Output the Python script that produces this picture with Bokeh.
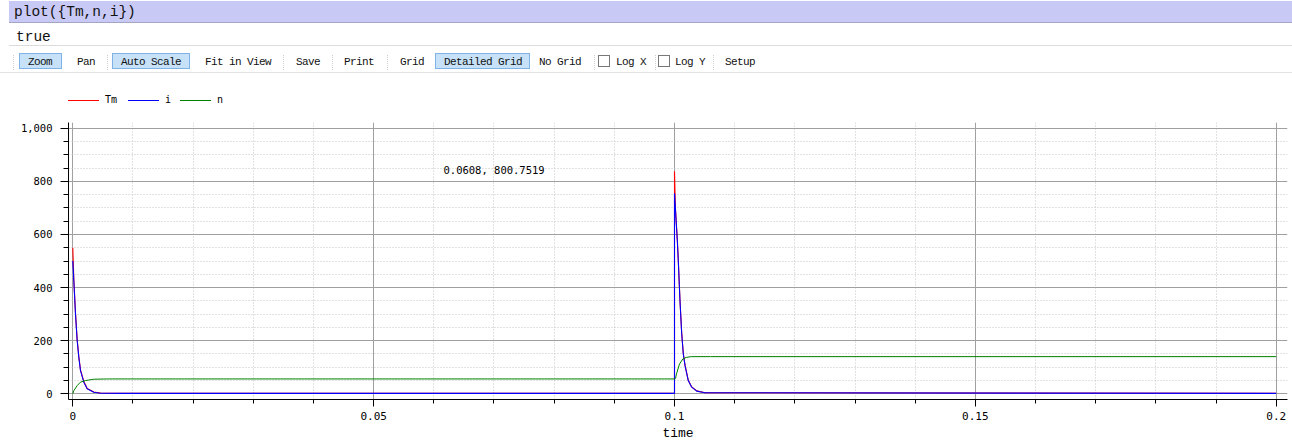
from bokeh.plotting import figure
from bokeh.models import (Div, Label, Range1d, FixedTicker)
from bokeh.layouts import column
from bokeh.embed import file_html
from bokeh.resources import INLINE

# ---------------- data ----------------
command_text = "plot({Tm,n,i})"
result_text = "true"
# (label, text-left x, highlighted, box-left, box-right)
toolbar_buttons = [
    ("Zoom", 28, True, 19, 62),
    ("Pan", 77, False, 0, 0),
    ("Auto Scale", 121, True, 112, 190),
    ("Fit in View", 205, False, 0, 0),
    ("Save", 296, False, 0, 0),
    ("Print", 344, False, 0, 0),
    ("Grid", 400, False, 0, 0),
    ("Detailed Grid", 444, True, 435, 530),
    ("No Grid", 539, False, 0, 0),
    ("Log X", 616, False, 0, 0),
    ("Log Y", 675, False, 0, 0),
    ("Setup", 725, False, 0, 0),
]
toolbar_separators = [13, 107, 283, 332, 387, 594, 655, 713]
toolbar_checkboxes = [598, 658]

series_names = ["Tm", "i", "n"]
series_colors = ["#ff0000", "#0000ff", "#008000"]
legend_x = [68, 128, 180]   # left end of each legend swatch

tm_t = [0.0, 0.00017, 0.00045, 0.00073, 0.0010, 0.00128, 0.00183, 0.00239, 0.00349, 0.0046, 0.008,
        0.1, 0.1, 0.10015, 0.10047, 0.10063, 0.10091, 0.10120, 0.10146, 0.10175, 0.10229, 0.10286,
        0.10369, 0.10507, 0.2]
tm_v = [550, 430, 303, 203, 140, 90, 46, 20, 7, 3, 2,
        2, 838, 700, 580, 505, 353, 228, 152, 108, 51, 26,
        11, 4, 2]

i_t = [0.0, 0.00017, 0.00045, 0.00073, 0.0010, 0.00128, 0.00183, 0.00239, 0.00349, 0.0046, 0.008,
       0.1, 0.1, 0.10047, 0.10063, 0.10091, 0.10120, 0.10146, 0.10175, 0.10229, 0.10286,
       0.10369, 0.10507, 0.2]
i_v = [500, 425, 299, 200, 137, 87, 44, 19, 6, 2, 1.5,
       1.5, 755, 575, 500, 350, 225, 150, 106, 50, 25,
       10, 4, 1.5]

n_t = [0.0, 0.00017, 0.00073, 0.00128, 0.00211, 0.0035, 0.006,
       0.1, 0.10017, 0.10033, 0.10083, 0.10138, 0.10195, 0.10278, 0.106, 0.2]
n_v = [0, 12, 31, 44, 50, 55, 56,
       56, 58, 75, 112, 131, 137, 140, 140, 140]

x_ticks = [0, 0.05, 0.1, 0.15, 0.2]
x_tick_labels = ["0", "0.05", "0.1", "0.15", "0.2"]
x_minor_ticks = [0.01, 0.02, 0.03, 0.04, 0.06, 0.07, 0.08, 0.09,
                 0.11, 0.12, 0.13, 0.14, 0.16, 0.17, 0.18, 0.19]
y_ticks = [0, 200, 400, 600, 800, 1000]
y_tick_labels = ["0", "200", "400", "600", "800", "1,000"]
y_minor_ticks = [50, 100, 150, 250, 300, 350, 450, 500, 550, 650, 700, 750, 850, 900, 950]
x_axis_label = "time"
cursor_text = "0.0608, 800.7519"
cursor_pos = (0.06161, 841)

# ---------------- header + legend (HTML) ----------------
HX, HY = 3, 4   # empirical offset of the Div content
mono = "'Liberation Mono', 'DejaVu Sans Mono', monospace"
parts = []
def el(x, y, style, content=""):
    parts.append(f'<div style="position:absolute;left:{x + HX}px;top:{y + HY}px;{style}">{content}</div>')

el(9, 0, "width:1283px;height:22px;background:#c9c9f5;border-bottom:1px solid #a4a4c4;")
el(14, 0, f"height:22px;line-height:22px;font-family:{mono};font-size:14.5px;color:#111;", command_text)
el(9, 44, "width:1283px;height:1px;background:#dcdcdc;")
el(16, 25, f"height:22px;line-height:22px;font-family:{mono};font-size:14.5px;color:#111;", result_text)
for lbl, tx, hl, bl, br in toolbar_buttons:
    if hl:
        el(bl, 52, f"width:{br-bl}px;height:16px;background:#c6e1f8;border:1px solid #7fb2e5;")
    el(tx, 53, f"height:17px;line-height:17px;font-family:{mono};font-size:11px;"
               f"letter-spacing:-0.6px;color:#111;white-space:pre;", lbl)
for sx in toolbar_separators:
    el(sx, 54, "width:1px;height:15px;border-left:1px dotted #cfcfcf;")
for cx in toolbar_checkboxes:
    el(cx, 54, "width:12px;height:12px;background:#fff;border:1px solid #777;")
el(-3, 71, "width:1300px;height:1px;background:#e2e2e2;")
# legend
for name, col, lx in zip(series_names, series_colors, legend_x):
    el(lx, 99, f"width:31px;height:1px;background:{col};")
    el(lx + 37, 92, f"height:14px;line-height:14px;font-family:'DejaVu Sans Mono';font-size:10px;"
                    f"color:#000;white-space:pre;", name)
header_html = ('<div style="position:relative;width:1292px;height:111px;overflow:visible;">'
               + "".join(parts) + '</div>')
header = Div(text=header_html, width=1290, height=111)

# ---------------- plot ----------------
px_per_unit_x = 6017.0
x0_px = 72.3
p = figure(width=1298, height=330, output_backend="svg", toolbar_location=None,
           x_range=Range1d((68 - x0_px) / px_per_unit_x, (1287 - x0_px) / px_per_unit_x),
           y_range=Range1d(-21.4, 1021.4),
           min_border_left=76, min_border_right=3, min_border_top=9, min_border_bottom=42)
p.outline_line_color = None
p.background_fill_color = "white"
p.border_fill_color = "white"

p.xaxis.ticker = FixedTicker(ticks=x_ticks, minor_ticks=x_minor_ticks)
p.yaxis.ticker = FixedTicker(ticks=y_ticks, minor_ticks=y_minor_ticks)
p.xaxis.major_label_overrides = {t: l for t, l in zip(x_ticks, x_tick_labels)}
p.yaxis.major_label_overrides = {t: l for t, l in zip(y_ticks, y_tick_labels)}

for ax in (p.xaxis[0], p.yaxis[0]):
    ax.axis_line_color = "#000000"
    ax.axis_line_width = 1
    ax.major_tick_line_color = "#000000"
    ax.minor_tick_line_color = "#000000"
    ax.major_tick_in = 0
    ax.minor_tick_in = 0
    ax.major_label_text_color = "#000000"
    ax.major_label_text_font = "DejaVu Sans Mono"

p.yaxis.major_tick_out = 8
p.yaxis.minor_tick_out = 5
p.yaxis.major_label_standoff = 8
p.yaxis.major_label_text_font_size = "10.5px"

p.xaxis.major_tick_out = 7
p.xaxis.minor_tick_out = 4
p.xaxis.major_label_standoff = 5
p.xaxis.major_label_text_font_size = "11px"
p.xaxis.axis_label = x_axis_label
p.xaxis.axis_label_text_font = "Liberation Mono"
p.xaxis.axis_label_text_font_style = "normal"
p.xaxis.axis_label_text_font_size = "13px"
p.xaxis.axis_label_text_color = "#000000"
p.xaxis.axis_label_standoff = 3

for g in (p.xgrid[0], p.ygrid[0]):
    g.grid_line_color = "#a0a0a0"
    g.grid_line_width = 1
    g.minor_grid_line_color = "#c4c4c4"
    g.minor_grid_line_dash = "1 2"
    g.minor_grid_line_width = 1

p.line(tm_t, tm_v, line_color=series_colors[0], line_width=1.1)
p.line(i_t, i_v, line_color=series_colors[1], line_width=1.1)
p.line(n_t, n_v, line_color=series_colors[2], line_width=1)

p.add_layout(Label(x=cursor_pos[0], y=cursor_pos[1], text=cursor_text,
                   text_font="DejaVu Sans Mono", text_font_size="10.5px",
                   text_baseline="middle", text_color="#000000"))

layout = column(header, p, spacing=0, margin=(-8, 0, -8, -8))
open("out.html", "w").write(file_html(layout, INLINE))
